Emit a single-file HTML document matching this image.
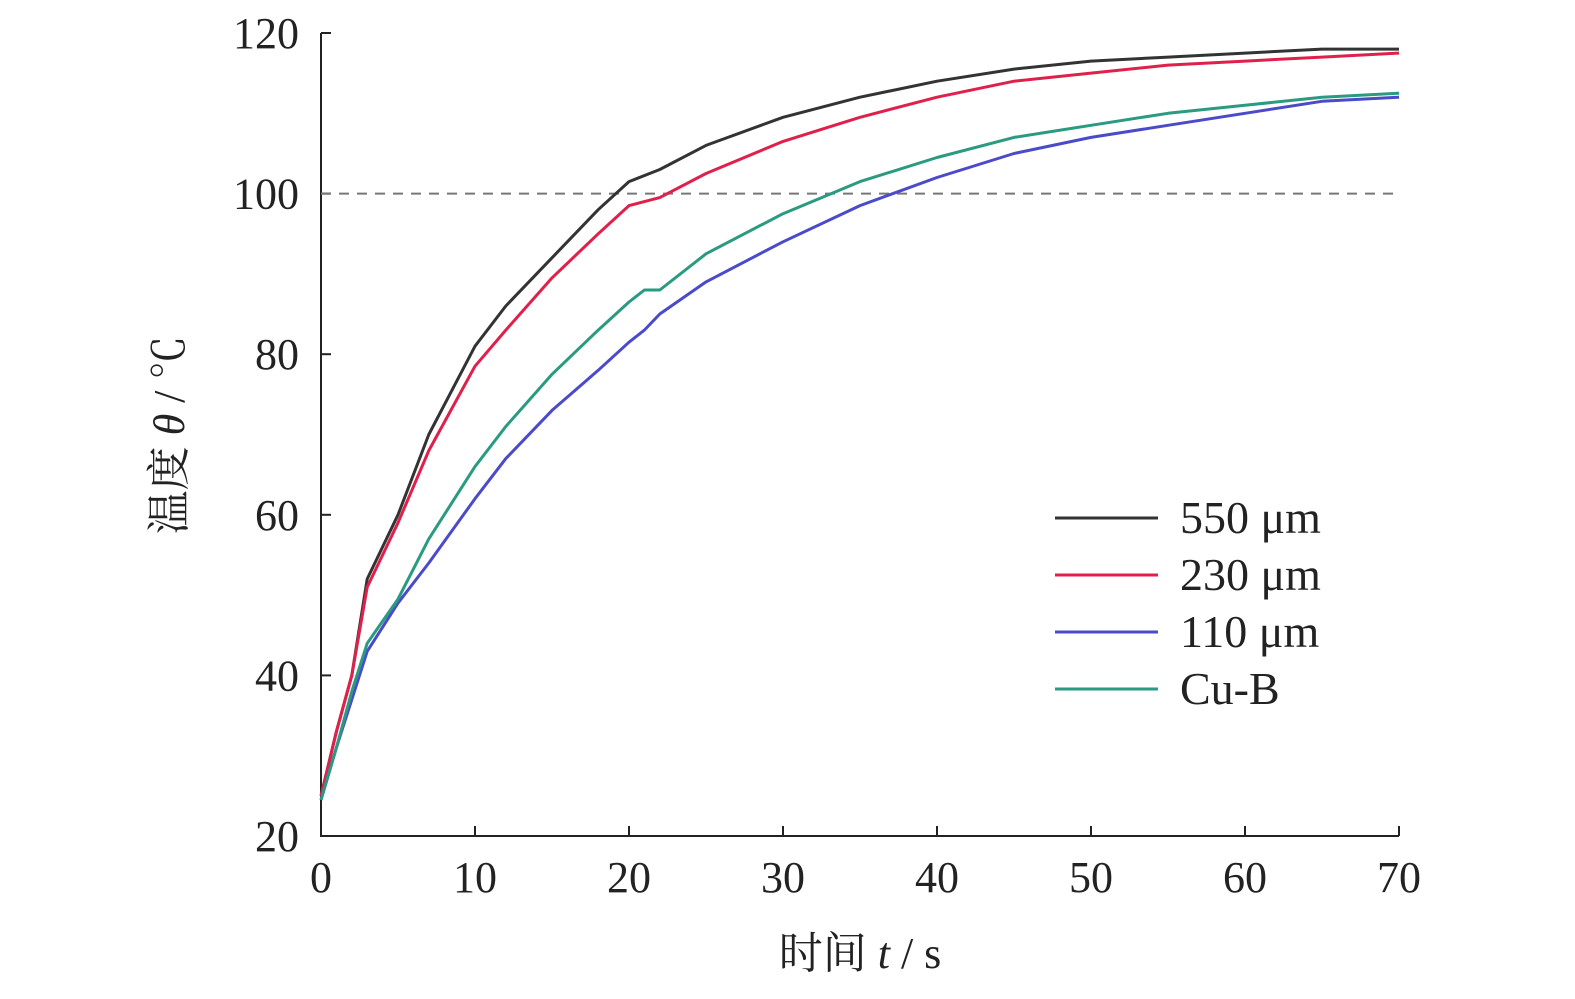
<!DOCTYPE html>
<html><head><meta charset="utf-8"><style>
body{margin:0;background:#fff;}
svg text{font-family:"Liberation Serif","Noto Serif CJK SC",serif;fill:#222;}
</style></head><body>
<svg width="1575" height="994" viewBox="0 0 1575 994" xmlns="http://www.w3.org/2000/svg">
<g id="axes"></g>
<g id="series"></g>
<g id="legend"></g>
</svg>
<script>
const xTicks=[0,10,20,30,40,50,60,70];
const yTicks=[20,40,60,80,100,120];
const names=["550 μm","230 μm","110 μm","Cu-B"];
const colors=["#333333","#e0204a","#4a4acb","#2a9a80"];
const t550=[0,1,2,3,4,5,7,10,12,15,18,20,22,25,30,35,40,45,50,55,60,65,70];
const v550=[25,33,40,52,56,60,70,81,86,92,98,101.5,103,106,109.5,112,114,115.5,116.5,117,117.5,118,118];
const t230=[0,1,2,3,4,5,7,10,12,15,18,20,21,22,25,30,35,40,45,50,55,60,65,70];
const v230=[25,33,40,51,55,59,68,78.5,83,89.5,95,98.5,99,99.5,102.5,106.5,109.5,112,114,115,116,116.5,117,117.5];
const t110=[0,1,2,3,5,7,10,12,15,18,20,21,22,25,30,35,40,45,50,55,60,65,70];
const v110=[24.5,31,37,43,49,54,62,67,73,78,81.5,83,85,89,94,98.5,102,105,107,108.5,110,111.5,112];
const tcub=[0,1,2,3,5,7,10,12,15,18,20,21,22,25,30,35,40,45,50,55,60,65,70];
const vcub=[24.5,31,38,44,49.5,57,66,71,77.5,83,86.5,88,88,92.5,97.5,101.5,104.5,107,108.5,110,111,112,112.5];
const seriesT=[t550,t230,t110,tcub], seriesV=[v550,v230,v110,vcub];
const X=v=>321+v*(1399-321)/70, Y=v=>836-(v-20)*(836-33)/100;
const NS="http://www.w3.org/2000/svg";
function mk(tag,attrs,parent,txt){const e=document.createElementNS(NS,tag);for(const k in attrs)e.setAttribute(k,attrs[k]);if(txt!==undefined)e.textContent=txt;parent.appendChild(e);return e;}
const ax=document.getElementById('axes'),se=document.getElementById('series'),lg=document.getElementById('legend');
let e;
e=mk('path',{d:`M${X(0)},${Y(120)} V${Y(20)} H${X(70)}`,fill:'none',stroke:'#222','stroke-width':2},ax);


xTicks.forEach(v=>{
 e=mk('line',{x1:X(v),x2:X(v),y1:Y(20),y2:Y(20)-10,stroke:'#222','stroke-width':2},ax);
 
 
 e=mk('text',{x:X(v),y:892,'font-size':44,'text-anchor':'middle'},ax,String(v));
 
 
});
yTicks.forEach(v=>{
 e=mk('line',{x1:X(0),x2:X(0)+10,y1:Y(v),y2:Y(v),stroke:'#222','stroke-width':2},ax);
 
 
 e=mk('text',{x:299,y:Y(v)+15,'font-size':44,'text-anchor':'end'},ax,String(v));
 
 
});
e=mk('line',{x1:X(0),x2:X(70),y1:Y(100),y2:Y(100),stroke:'#777','stroke-width':2,'stroke-dasharray':'10,8'},ax);


e=mk('text',{x:860,y:968,'font-size':44,'text-anchor':'middle'},ax);
e.innerHTML='时间 <tspan font-style="italic">t</tspan> / s';


e=mk('text',{x:0,y:0,'font-size':44,'text-anchor':'middle',transform:'translate(184,435) rotate(-90)'},ax);
e.innerHTML='温度 <tspan font-style="italic">θ</tspan> / ℃';


seriesT.forEach((ts,i)=>{
 const d=ts.map((t,j)=>(j?'L':'M')+X(t).toFixed(1)+','+Y(seriesV[i][j]).toFixed(1)).join(' ');
 e=mk('path',{d,fill:'none',stroke:colors[i],'stroke-width':3,'stroke-linejoin':'round'},se);
 
 
});
names.forEach((n,i)=>{
 const y=518+i*57;
 e=mk('line',{x1:1055,x2:1158,y1:y,y2:y,stroke:colors[i],'stroke-width':3},lg);
 
 
 e=mk('text',{x:1180,y:y+15,'font-size':46},lg,n);
 
 
});
</script>
</body></html>
